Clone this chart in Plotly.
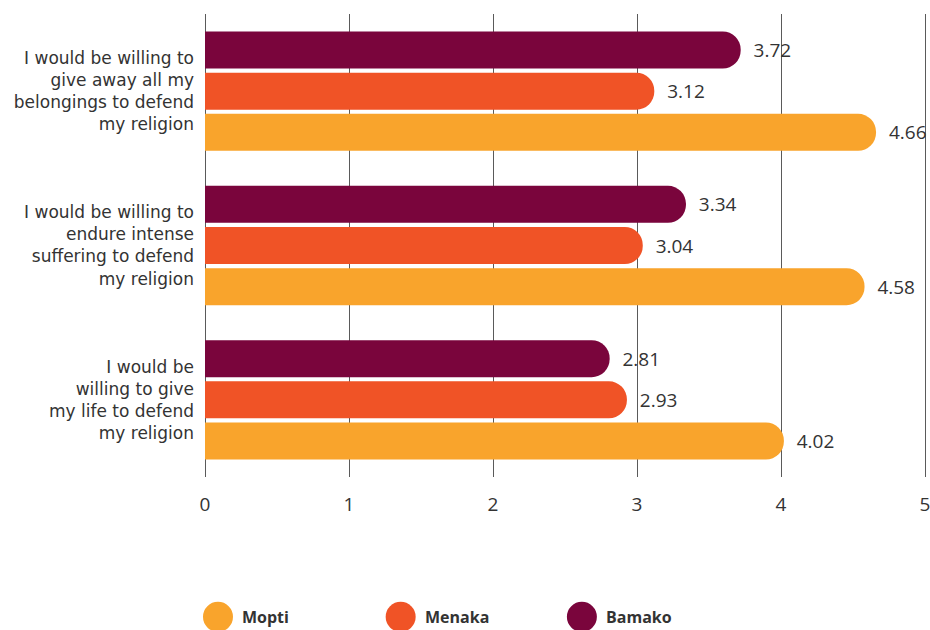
import plotly.graph_objects as go

# Survey statements (top to bottom) and mean agreement scores per city
statements = [
    "I would be willing to<br>give away all my<br>belongings to defend<br>my religion",
    "I would be willing to<br>endure intense<br>suffering to defend<br>my religion",
    "I would be<br>willing to give<br>my life to defend<br>my religion",
]
cities = ["Mopti", "Menaka", "Bamako"]
mopti = [4.66, 4.58, 4.02]
menaka = [3.12, 3.04, 2.93]
bamako = [3.72, 3.34, 2.81]
colors = ["#F9A42C", "#F05326", "#7A053C"]
x_ticks = [0, 1, 2, 3, 4, 5]

FONT = "Open Sans"
LABEL_FONT = "DejaVu Sans"
TEXT = "#333333"

fig = go.Figure()
for name, vals, col in zip(cities, [mopti, menaka, bamako], colors):
    fig.add_trace(go.Bar(
        y=statements, x=vals, name=name, orientation="h",
        marker=dict(color=col, line=dict(width=0), cornerradius="50%"),
        text=[f"{v:.2f}" for v in vals],
        texttemplate="  %{text}",
        textposition="outside",
        textfont=dict(family=FONT, size=19, color=TEXT),
        cliponaxis=False,
        showlegend=False,
    ))

fig.update_layout(
    width=930, height=630,
    margin=dict(l=205, r=0, t=14, b=153),
    paper_bgcolor="white", plot_bgcolor="white",
    barmode="group", bargap=0.2, bargroupgap=0.1,
    font=dict(family=FONT, color=TEXT),
    xaxis=dict(
        range=[0, 5 * 725 / 723], tickvals=x_ticks, ticktext=[str(t) for t in x_ticks],
        showgrid=True, gridcolor="#5a5a5a", gridwidth=1,
        zeroline=True, zerolinecolor="#5a5a5a", zerolinewidth=1,
        showline=False, ticks="", ticklabelstandoff=14,
        ticklabeloverflow="allow",
        tickfont=dict(family=FONT, size=19, color=TEXT),
    ),
    yaxis=dict(
        categoryorder="array", categoryarray=statements[::-1],
        showgrid=False, zeroline=False, showline=False, ticks="",
        ticklabelstandoff=10,
        tickfont=dict(family=LABEL_FONT, size=17, color=TEXT),
    ),
)

# Legend drawn as large circular swatches with bold labels
legend_x = [0.018, 0.271, 0.522]
for name, col, lx in zip(cities, colors, legend_x):
    fig.add_shape(
        type="circle", xref="paper", yref="paper",
        xsizemode="pixel", ysizemode="pixel",
        xanchor=lx, yanchor=-0.302,
        x0=-15, x1=15, y0=-15, y1=15,
        fillcolor=col, line=dict(width=0),
    )
    fig.add_annotation(
        xref="paper", yref="paper", x=lx, y=-0.302,
        xshift=22, text=f"<b>{name}</b>", showarrow=False,
        xanchor="left", yanchor="middle",
        font=dict(family=FONT, size=16, color=TEXT),
    )

fig.write_html("out.html")
